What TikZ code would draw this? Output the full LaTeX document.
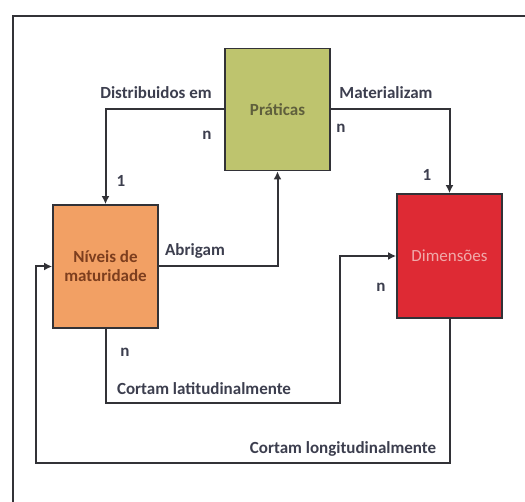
\documentclass[tikz,border=0pt]{standalone}
\usepackage{fontspec}
\setmainfont{Carlito}
\usepackage{xcolor}
\usetikzlibrary{arrows.meta}
\usetikzlibrary{positioning}
\definecolor{verde}{RGB}{190,196,110}
\definecolor{laranja}{RGB}{242,160,100}
\definecolor{vermelho}{RGB}{222,42,52}
\definecolor{linha}{RGB}{50,50,55}
\definecolor{rotulo}{RGB}{60,62,78}

\begin{document}
\begin{tikzpicture}[x=1pt,y=1pt,
          box/.style={draw=linha,line width=1.8pt,minimum width=105pt,minimum height=122pt,align=center,font=\fontsize{17}{19}\selectfont\bfseries},
          lbl/.style={font=\fontsize{17}{19}\selectfont\bfseries,text=rotulo,inner sep=0pt},
          con/.style={draw=linha,line width=2pt,-{Latex[length=8pt,width=8pt]}}]
          \useasboundingbox (0,0) rectangle (525,-502);
          \draw[linha,line width=2.4pt](13,-502)--(13,-16)--(525,-16);
          \node[box,fill=verde,text={rgb,255:red,95;green,95;blue,60}](p) at (277.5,-109.5){Práticas};
          \node[box,fill=laranja,text={rgb,255:red,125;green,62;blue,30},minimum height=123pt](n) at (105.5,-266.5){Níveis de\\maturidade};
          \node[box,fill=vermelho,text={rgb,255:red,240;green,170;blue,170},minimum height=124pt,font=\fontsize{17}{19}\selectfont](d) at (449.5,-256){Dimensões};
          \coordinate(c1) at (340,-403);
          \coordinate(c2) at (36,-463);
          \draw[con](p.west)-|(n.north);
          \draw[con](p.east)-|(d.north);
          \draw[con](n.east)-|(p.south);
          \draw[con](n.south)|-(c1)|-(d.west);
          \draw[con](d.south)|-(c2)|-(n.west);
          \node[lbl](l1) at (156,-93){Distribuidos em};
          \node[lbl](l2) at (207,-135){n};
          \node[lbl](l3) at (121,-181){1};
          \node[lbl](l4) at (386,-93){Materializam};
          \node[lbl](l5) at (341,-128){n};
          \node[lbl](l6) at (427,-175){1};
          \node[lbl](l7) at (195,-251){Abrigam};
          \node[lbl](l8) at (125,-352){n};
          \node[lbl](l9) at (204,-389){Cortam latitudinalmente};
          \node[lbl](l10) at (381,-287){n};
          \node[lbl](l11) at (343,-449){Cortam longitudinalmente};
        \end{tikzpicture}
\end{document}
